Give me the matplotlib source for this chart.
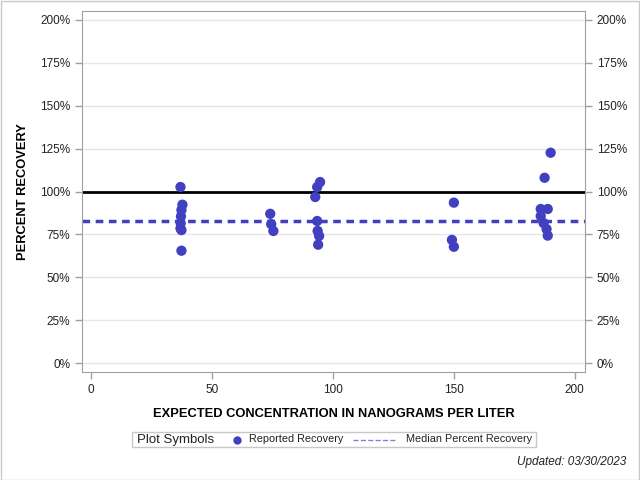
import numpy as np
import matplotlib
matplotlib.use('Agg')
import matplotlib.pyplot as plt
from matplotlib.patches import Rectangle
from matplotlib.lines import Line2D
from matplotlib.ticker import FuncFormatter

plt.rcParams['font.family'] = ['Liberation Sans', 'DejaVu Sans']

# Reported recoveries
concentration = [37.1, 37.9, 37.5, 37.3, 37.2, 37.1, 37.5, 37.5,
                 74.2, 74.6, 75.5,
                 94.8, 93.6, 92.8, 93.6, 93.8, 94.4, 94.0,
                 150.1, 149.3, 150.1,
                 190.1, 187.6, 186.0, 188.9, 186.0, 187.2, 188.4, 188.9]
recovery = [102.6, 92.3, 89.2, 85.5, 81.5, 78.5, 77.5, 65.5,
            87.0, 81.0, 77.0,
            105.5, 102.6, 96.8, 82.8, 77.0, 74.1, 69.0,
            93.5, 71.8, 67.8,
            122.6, 108.0, 89.8, 89.8, 85.7, 81.6, 78.1, 74.3]
median_recovery = np.median(recovery)

blue = '#4040C0'
grid_gray = '#E6E6E6'
axis_gray = '#A0A0A0'

fig = plt.figure(figsize=(6.4, 4.8), dpi=100)
ax = fig.add_axes([82 / 640, 1 - 372 / 480, 503 / 640, 361 / 480])

ax.set_xlim(-3.6, 204.3)
ax.set_ylim(-5.2, 205.2)

yticks = np.arange(0, 201, 25)
ax.set_yticks(yticks)
ax.set_xticks([0, 50, 100, 150, 200])
pct = FuncFormatter(lambda v, p: f'{v:.0f}%')
ax.yaxis.set_major_formatter(pct)
for y in yticks:
    ax.axhline(y, color=grid_gray, lw=1, zorder=0)

ax.axhline(100, color='black', lw=2, zorder=2)
ax.axhline(median_recovery, color=blue, lw=2.5, ls=(0, (2.2, 1.6)), zorder=2)
ax.scatter(concentration, recovery, s=55, color=blue, edgecolors='none', zorder=3)

for s in ax.spines.values():
    s.set_color(axis_gray)
ax.tick_params(colors=axis_gray, labelcolor='#222222', labelsize=8.5,
               length=5, width=1)
ax.tick_params(axis='y', right=True, labelright=True)

ax.set_xlabel('EXPECTED CONCENTRATION IN NANOGRAMS PER LITER',
              fontsize=9.3, fontweight='bold', labelpad=9)
ax.set_ylabel('PERCENT RECOVERY', fontsize=9.3, fontweight='bold', labelpad=8)

# legend box drawn by hand, SAS style
W, H = 640, 480
fig.patches.append(Rectangle((132 / W, 1 - 447 / H), 404 / W, 15 / H,
                             transform=fig.transFigure, fill=False,
                             edgecolor='#C8C8C8', lw=1))
fig.text(137 / W, 1 - 439.5 / H, 'Plot Symbols', fontsize=9.5,
         va='center', ha='left', color='#222222')
fig.add_artist(Line2D([237 / W], [1 - 439.5 / H], marker='o', ms=6,
                      color=blue, mec='none', transform=fig.transFigure))
fig.text(249 / W, 1 - 439.5 / H, 'Reported Recovery', fontsize=7.8,
         va='center', ha='left', color='#222222')
fig.add_artist(Line2D([353 / W, 397 / W], [1 - 439.5 / H] * 2, ls='--',
                      lw=1, color='#8080E0', transform=fig.transFigure))
fig.text(406 / W, 1 - 439.5 / H, 'Median Percent Recovery', fontsize=7.8,
         va='center', ha='left', color='#222222')
fig.text(626 / W, 1 - 462 / H, 'Updated: 03/30/2023', fontsize=8.5,
         style='italic', va='center', ha='right', color='#222222')

# light frame round the whole picture
fig.patches.append(Rectangle((0.5 / W, 0.5 / H), 1 - 1.5 / W, 1 - 1.5 / H,
                             transform=fig.transFigure, fill=False,
                             edgecolor='#C8C8C8', lw=1))

fig.savefig('out.png', dpi=100)
